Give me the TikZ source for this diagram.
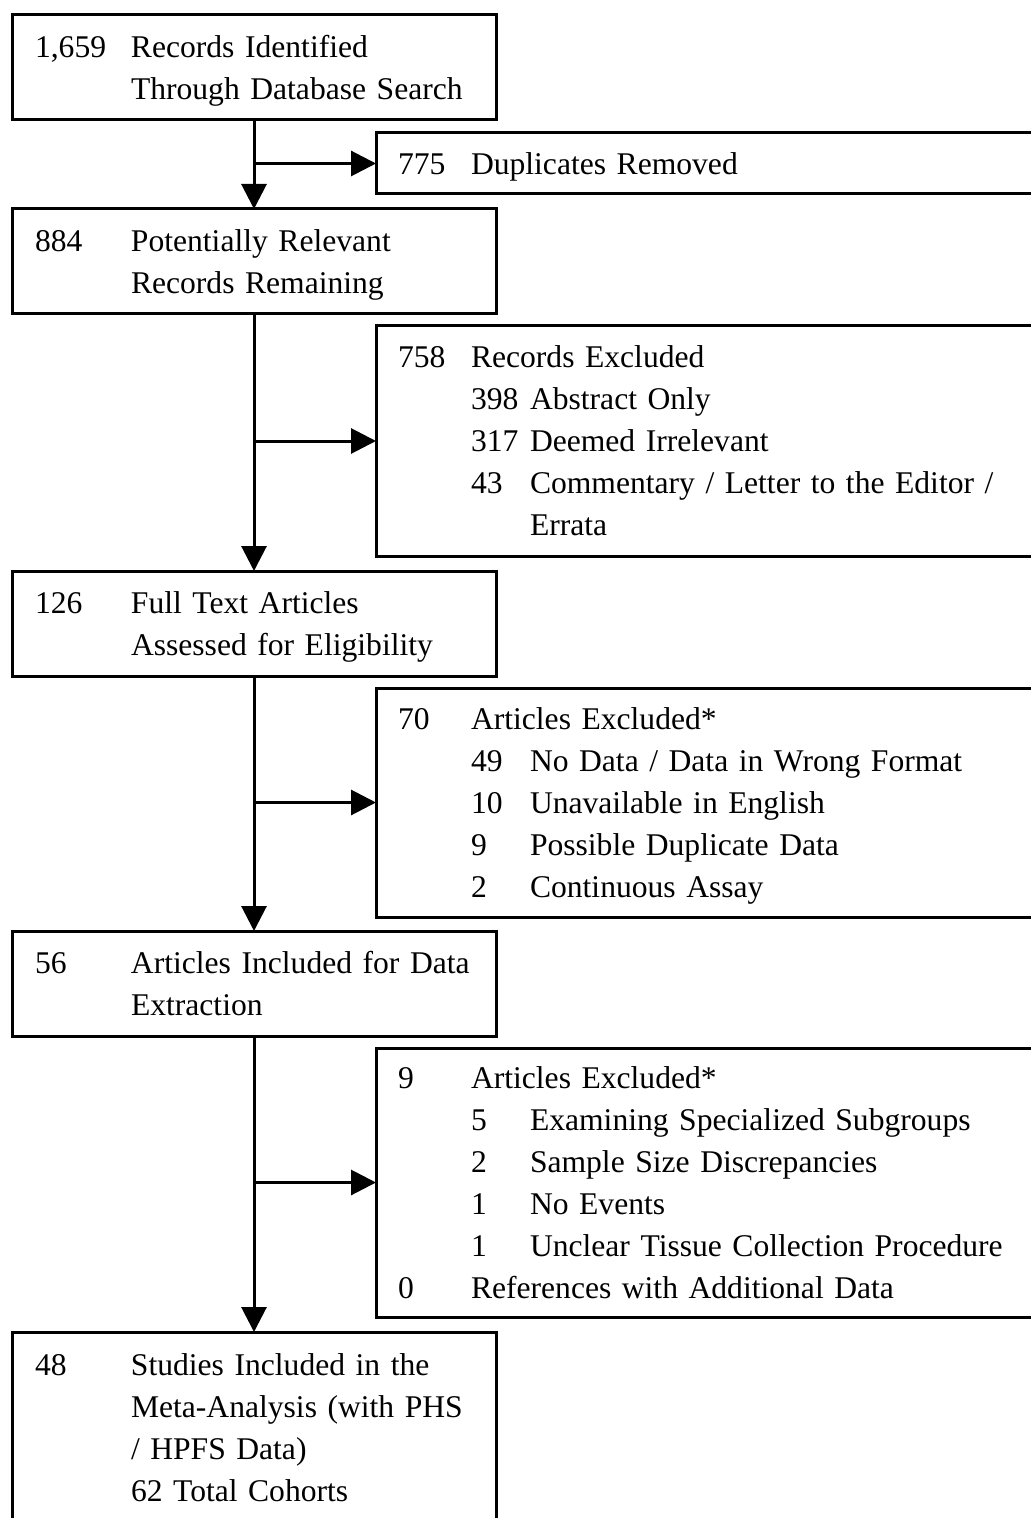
\documentclass[tikz,border=0pt]{standalone}
\usepackage{fontspec}
\setmainfont[WordSpace=0.8]{Liberation Serif}
\usetikzlibrary{arrows.meta}

% count columns
\newcommand{\lstrut}{\rule[-5.1pt]{0pt}{21pt}}
\newcommand{\nc}[2]{\lstrut\makebox[48pt][l]{#1}\mbox{#2}}
\newcommand{\rc}[2]{\lstrut\makebox[36.5pt][l]{#1}\mbox{#2}}
\newcommand{\subc}[2]{\makebox[29.5pt][l]{#1}\mbox{#2}}

\tikzset{
  box/.style={draw,line width=1.5pt,rectangle,anchor=north west,outer sep=0pt,
    inner ysep=0pt,align=left,font=\fontsize{15.8}{21}\selectfont},
  mainbox/.style={box,text width=219pt,inner xsep=11.5pt,minimum height=52.5pt},
  sidebox/.style={box,text width=320pt,inner xsep=11pt},
  flow/.style={line width=1.5pt,-{Triangle[length=12.5pt,width=12.5pt]}},
}

\begin{document}
\begin{tikzpicture}[x=0.5pt,y=-0.5pt]
  \useasboundingbox (0,0) rectangle (1031,1518);
  \clip (0,0) rectangle (1031,1518);

  % main column
  \node[mainbox] (rec) at (12,15) {\nc{1,659}{Records Identified}\\\nc{}{Through Database Search}};
  \node[mainbox] (rel) at (12,209) {\nc{884}{Potentially Relevant}\\\nc{}{Records Remaining}};
  \node[mainbox] (full) at (12,571) {\nc{126}{Full Text Articles}\\\nc{}{Assessed for Eligibility}};
  \node[mainbox] (extr) at (12,931) {\nc{56}{Articles Included for Data}\\\nc{}{Extraction}};
  \node[mainbox,minimum height=96pt] (meta) at (12,1332) {\nc{48}{Studies Included in the}\\
    \nc{}{Meta-Analysis (with PHS}\\\nc{}{/ HPFS Data)}\\\nc{}{62 Total Cohorts}};

  % exclusions
  \node[sidebox,minimum height=30.5pt] (dup) at (376,133) {\rc{775}{Duplicates Removed}};
  \node[sidebox,minimum height=115pt] (exrec) at (376,326) {\rc{758}{Records Excluded}\\
    \rc{}{\subc{398}{Abstract Only}}\\\rc{}{\subc{317}{Deemed Irrelevant}}\\
    \rc{}{\subc{43}{Commentary / Letter to the Editor /}}\\\rc{}{\subc{}{Errata}}};
  \node[sidebox,minimum height=114.5pt] (exfull) at (376,688) {\rc{70}{Articles Excluded*}\\
    \rc{}{\subc{49}{No Data / Data in Wrong Format}}\\\rc{}{\subc{10}{Unavailable in English}}\\
    \rc{}{\subc{9}{Possible Duplicate Data}}\\\rc{}{\subc{2}{Continuous Assay}}};
  \node[sidebox,minimum height=134.5pt] (exextr) at (376,1048) {\rc{9}{Articles Excluded*}\\
    \rc{}{\subc{5}{Examining Specialized Subgroups}}\\\rc{}{\subc{2}{Sample Size Discrepancies}}\\
    \rc{}{\subc{1}{No Events}}\\\rc{}{\subc{1}{Unclear Tissue Collection Procedure}}\\
    \rc{0}{References with Additional Data}};

  \foreach \a/\b/\x in {rec/rel/dup,rel/full/exrec,full/extr/exfull,extr/meta/exextr} {
    \draw[flow] (\a.south) -- (\b.north);
    \draw[flow] (\a.south |- \x.west) -- (\x.west);
  }
\end{tikzpicture}
\end{document}
